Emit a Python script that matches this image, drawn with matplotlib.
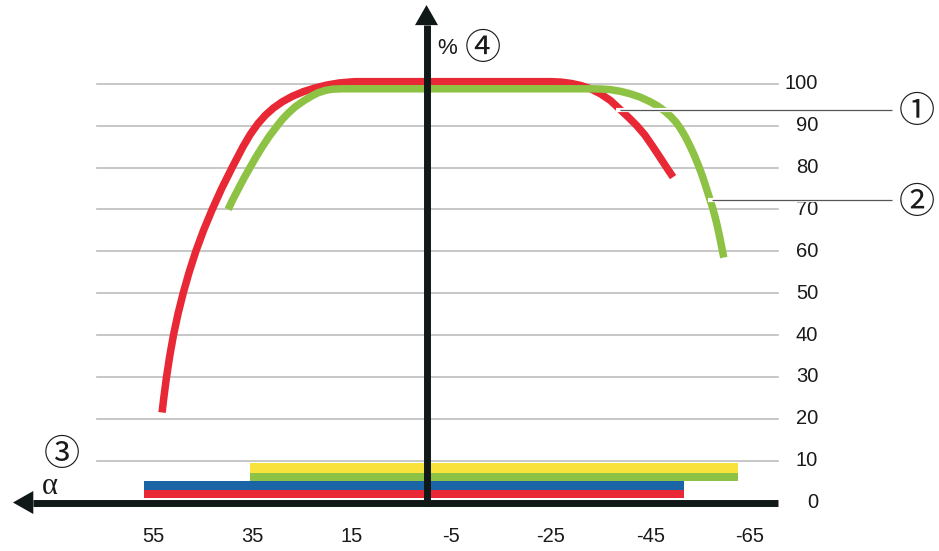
import matplotlib
matplotlib.use("Agg")
import matplotlib.pyplot as plt

# --- chart data ---
red_x = [53.2, 52.85, 52.3, 51.65, 50.9, 50.0, 48.95, 47.75, 46.4, 44.85, 43.1, 41.2, 39.1,
         36.9, 35.4, 33.9, 32.4, 30.8, 29.0, 27.0, 24.8, 22.4, 20.0, 17.5, 14.5,
         10.0, 0.0, -10.0, -20.0, -25.0, -27.0, -29.0, -31.0, -33.0, -35.0, -37.0, -39.0,
         -40.7, -42.3, -43.9, -45.3, -46.7, -48.3, -49.6]
red_y = [21.5, 25.0, 30.0, 35.0, 40.0, 45.0, 50.0, 55.0, 60.0, 65.0, 70.0, 75.0, 80.0,
         85.0, 88.0, 90.5, 92.5, 94.2, 95.7, 97.0, 98.1, 99.0, 99.7, 100.2, 100.5,
         100.5, 100.5, 100.5, 100.5, 100.5, 100.4, 100.1, 99.6, 98.8, 97.6, 96.0, 93.8,
         91.9, 90.0, 87.8, 85.4, 82.9, 80.0, 77.7]

green_x = [39.9, 38.9, 37.8, 36.7, 35.5, 34.3, 33.0, 31.6, 30.0, 29.0, 27.8, 26.4, 24.6,
           23.2, 21.9, 20.4, 19.0, 17.0, 10.0, 0.0, -10.0, -20.0, -30.0, -33.0, -35.0,
           -37.0, -39.0, -41.0, -43.0, -45.0, -46.5, -48.0, -49.2, -50.2, -51.1, -52.0,
           -52.9, -53.8, -54.6, -55.4, -56.1, -56.8, -57.5, -58.1, -58.6, -59.05, -59.45, -59.8]
green_y = [70.0, 72.5, 75.0, 77.5, 80.0, 82.5, 85.0, 87.5, 90.0, 91.5, 93.0, 94.5, 96.0,
           97.0, 97.8, 98.4, 98.7, 98.8, 98.8, 98.8, 98.8, 98.8, 98.8, 98.8, 98.75,
           98.6, 98.2, 97.6, 96.8, 95.7, 94.7, 93.4, 92.1, 90.8, 89.3, 87.5,
           85.4, 83.1, 80.8, 78.3, 75.8, 73.2, 70.6, 68.0, 65.5, 63.0, 60.6, 58.5]

bar_colors = ["#E82834", "#1B64A5", "#8DC244", "#FAE23C"]
bar_start = [56.8, 56.8, 35.5, 35.5]
bar_end = [-51.8, -51.8, -62.7, -62.7]
bar_bottom = [1.1, 3.0, 5.1, 7.1]
bar_top = [3.0, 5.1, 7.1, 9.4]

x_ticks = [55, 35, 15, -5, -25, -45, -65]
y_ticks = [0, 10, 20, 30, 40, 50, 60, 70, 80, 90, 100]

RED = "#E82834"
GREEN = "#8DC244"
AXIS = "#111818"
GRID = "#BDBDBD"
TEXT = "#1a1a1a"

# pixel per data unit (used for arrow heads only)
PX_X = 4.97
PX_Y = 4.188

fig = plt.figure(figsize=(9.39, 5.51), dpi=100)
ax = fig.add_axes([0, 0, 1, 1])
ax.set_xlim(85.8, -103.1)
ax.set_ylim(-11.58, 120.0)
ax.axis("off")

# grid lines
for v in y_ticks[1:]:
    ax.plot([66.3, -70.8], [v, v], color=GRID, lw=1.2, zorder=1)

# bars
for c, s, e, b, t in zip(bar_colors, bar_start, bar_end, bar_bottom, bar_top):
    ax.barh((b + t) / 2, s - e, left=e, height=t - b, color=c, zorder=2, linewidth=0)

# curves
ax.plot(red_x, red_y, color=RED, lw=5.4, solid_capstyle="butt", solid_joinstyle="round", zorder=3)
ax.plot(green_x, green_y, color=GREEN, lw=5.4, solid_capstyle="butt", solid_joinstyle="round", zorder=3.1)

# axes with arrow heads
ax.plot([-70.8, 79.1], [0, 0], color=AXIS, lw=5.0, solid_capstyle="butt", zorder=6)
ax.fill([83.2, 79.1, 79.1], [0, 11.5 / PX_Y, -11.5 / PX_Y], color=AXIS, lw=0, zorder=6)
ax.plot([0, 0], [-0.8, 114.0], color=AXIS, lw=5.0, solid_capstyle="butt", zorder=6)
ax.fill([0, 11.5 / PX_X, -11.5 / PX_X], [118.8, 114.0, 114.0], color=AXIS, lw=0, zorder=6)

# tick labels
for v in y_ticks:
    ax.text(-78.8, v, str(v), ha="right", va="center", fontsize=14.5,
            family="Liberation Sans", color=TEXT, zorder=3)
for v in x_ticks:
    ax.text(v, -8.2, str(v), ha="center", va="center", fontsize=14.5,
            family="Liberation Sans", color=TEXT, zorder=3)

# callout lines
for x0, y0 in [(-38.9, 93.7), (-57.4, 72.2)]:
    ax.plot([x0 + 0.8, -93.7], [y0, y0], color="white", lw=3.0, solid_capstyle="butt", zorder=4)
    ax.plot([x0, -93.7], [y0, y0], color="#555555", lw=0.9, solid_capstyle="butt", zorder=5)

circ = ["Noto Sans CJK JP", "DejaVu Sans"]
ax.text(-98.7, 93.2, "\u2460", ha="center", va="center", fontsize=26, family=circ, color=TEXT)
ax.text(-98.7, 71.5, "\u2461", ha="center", va="center", fontsize=26, family=circ, color=TEXT)
ax.text(73.3, 11.3, "\u2462", ha="center", va="center", fontsize=26, family=circ, color=TEXT)
ax.text(-11.3, 108.3, "\u2463", ha="center", va="center", fontsize=26, family=circ, color=TEXT)
ax.text(-4.2, 108.3, "%", ha="center", va="center", fontsize=16, family="Liberation Sans", color=TEXT)
ax.text(75.7, 3.8, "\u03b1", ha="center", va="center", fontsize=22, family="Liberation Serif", color=TEXT)

fig.savefig("out.png", dpi=100)
